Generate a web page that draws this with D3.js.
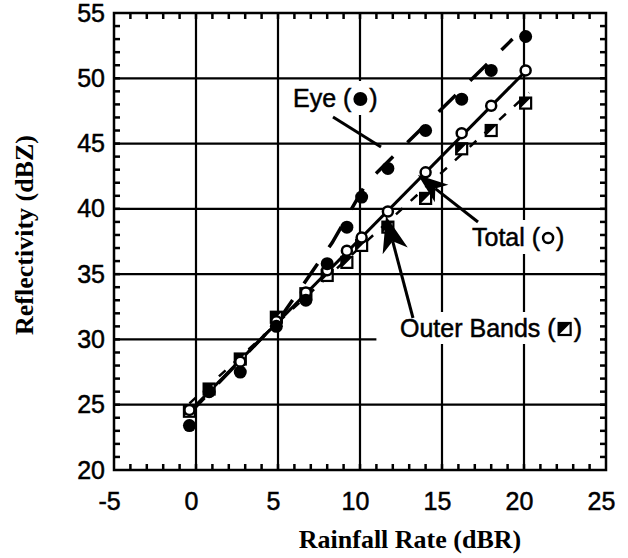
<!DOCTYPE html>
<html>
<head>
<meta charset="utf-8">
<script src="https://cdn.jsdelivr.net/npm/d3@7"></script>
<style>
  body { margin: 0; background: #fff; }
  svg { display: block; }
  .tick-label { font-family: "Liberation Sans", Arial, Helvetica, sans-serif; font-size: 25px; fill: #000; stroke: #000; stroke-width: 0.5; }
  .title { font-family: "Liberation Serif", "Times New Roman", serif; font-weight: bold; font-size: 26px; fill: #000; }
  .note { font-family: "Liberation Sans", Arial, Helvetica, sans-serif; font-size: 25px; fill: #000; stroke: #000; stroke-width: 0.5; }
</style>
</head>
<body>
<svg id="chart" width="628" height="558"></svg>
<script>
// axis ticks
var xTicks = [-5, 0, 5, 10, 15, 20, 25];
var yTicks = [20, 25, 30, 35, 40, 45, 50, 55];

// rainfall rate bins (dBR) and the mean reflectivity (dBZ) in each
var rainRate = [-0.4, 0.8, 2.7, 4.9, 6.7, 8.0, 9.2, 10.1, 11.7, 14.0, 16.2, 18.0, 20.1];
var eyeZ     = [23.4, 26.0, 27.5, 31.0, 33.0, 35.8, 38.6, 40.9, 43.1, 46.0, 48.4, 50.6, 53.2];
var totalZ   = [24.6, 26.0, 28.3, 31.4, 33.6, 35.3, 36.8, 37.8, 39.8, 42.8, 45.8, 47.9, 50.6];
var outerZ   = [24.5, 26.2, 28.5, 31.7, 33.5, 34.9, 35.9, 37.2, 38.6, 40.8, 44.6, 46.0, 48.1];

// fitted relations
var eyeFitR   = [-0.5, 5.0, 8.3, 10.4, 19.3];
var eyeFitZ   = [24.2, 31.4, 37.4, 42.0, 53.0];
var totalFitR = [-0.3, 20.3];
var totalFitZ = [24.6, 50.8];
var outerFitR = [-0.4, 20.3];
var outerFitZ = [25.1, 48.9];

var svg = d3.select("#chart");
var x = d3.scaleLinear().domain([-5, 25]).range([114, 606]);
var y = d3.scaleLinear().domain([20, 55]).range([470, 13]);

var gridLayer = svg.append("g");
var maskLayer = svg.append("g");
var dataLayer = svg.append("g");
var frameLayer = svg.append("g");
var noteLayer = svg.append("g");

// grid
gridLayer.selectAll(".vgrid").data([0, 5, 10, 15, 20]).enter().append("line")
  .attr("x1", function(d) { return x(d); }).attr("x2", function(d) { return x(d); })
  .attr("y1", y(55)).attr("y2", y(20))
  .attr("stroke", "#000").attr("stroke-width", 2.2);
gridLayer.selectAll(".hgrid").data([25, 30, 35, 40, 45, 50]).enter().append("line")
  .attr("y1", function(d) { return y(d); }).attr("y2", function(d) { return y(d); })
  .attr("x1", x(-5)).attr("x2", x(25))
  .attr("stroke", "#000").attr("stroke-width", 2.2);

// fit lines
function fitLine(rs, zs) {
  return d3.line().x(function(d) { return x(d); }).y(function(d, i) { return y(zs[i]); })(rs);
}
dataLayer.append("path").attr("d", fitLine(outerFitR, outerFitZ))
  .attr("fill", "none").attr("stroke", "#000").attr("stroke-width", 2.5).attr("stroke-dasharray", "9,11");
dataLayer.append("path").attr("d", fitLine(totalFitR, totalFitZ))
  .attr("fill", "none").attr("stroke", "#000").attr("stroke-width", 3);
dataLayer.append("path").attr("d", fitLine(eyeFitR, eyeFitZ))
  .attr("fill", "none").attr("stroke", "#000").attr("stroke-width", 3.5).attr("stroke-dasharray", "24,20");

// markers
function squareMark(g, s) {
  g.append("rect").attr("x", -s / 2).attr("y", -s / 2).attr("width", s).attr("height", s)
    .attr("fill", "#fff").attr("stroke", "#000").attr("stroke-width", 2.2);
  g.append("path").attr("d", "M" + (-s / 2) + "," + (-s / 2) + "L" + (s / 2) + "," + (-s / 2) + "L" + (-s / 2) + "," + (s / 2) + "Z")
    .attr("fill", "#000");
}
dataLayer.selectAll(".outer").data(rainRate).enter().append("g")
  .attr("class", "outer")
  .attr("transform", function(d, i) { return "translate(" + x(d) + "," + y(outerZ[i]) + ")"; })
  .each(function() { squareMark(d3.select(this), 11); });
dataLayer.selectAll(".total").data(rainRate).enter().append("circle")
  .attr("class", "total")
  .attr("cx", function(d) { return x(d); })
  .attr("cy", function(d, i) { return y(totalZ[i]); })
  .attr("r", 5).attr("fill", "#fff").attr("stroke", "#000").attr("stroke-width", 2.5);
dataLayer.selectAll(".eye").data(rainRate).enter().append("circle")
  .attr("class", "eye")
  .attr("cx", function(d) { return x(d); })
  .attr("cy", function(d, i) { return y(eyeZ[i]); })
  .attr("r", 6.5).attr("fill", "#000");

// frame and inward minor ticks
var minorX = d3.range(-4, 25, 1);
var minorY = d3.range(21, 55, 1);
var TICK = 6;
[y(20), y(55)].forEach(function(edge, k) {
  var dir = k == 0 ? -1 : 1;
  frameLayer.append("g").selectAll("line").data(minorX).enter().append("line")
    .attr("x1", function(d) { return x(d); }).attr("x2", function(d) { return x(d); })
    .attr("y1", edge).attr("y2", edge + dir * TICK)
    .attr("stroke", "#000").attr("stroke-width", 2.5);
});
[x(-5), x(25)].forEach(function(edge, k) {
  var dir = k == 0 ? 1 : -1;
  frameLayer.append("g").selectAll("line").data(minorY).enter().append("line")
    .attr("y1", function(d) { return y(d); }).attr("y2", function(d) { return y(d); })
    .attr("x1", edge).attr("x2", edge + dir * TICK)
    .attr("stroke", "#000").attr("stroke-width", 2.5);
});
frameLayer.append("rect")
  .attr("x", x(-5)).attr("y", y(55)).attr("width", x(25) - x(-5)).attr("height", y(20) - y(55))
  .attr("fill", "none").attr("stroke", "#000").attr("stroke-width", 2.5);

// tick labels
var fmt = function(d) { return String(d); };
var xAxis = frameLayer.append("g").attr("transform", "translate(0," + y(20) + ")")
  .call(d3.axisBottom(x).tickValues(xTicks).tickSize(0).tickPadding(22).tickFormat(fmt));
xAxis.select(".domain").remove();
xAxis.selectAll("text").attr("class", "tick-label").attr("dx", -5);
xAxis.attr("font-size", null).attr("font-family", null);

var yAxis = frameLayer.append("g").attr("transform", "translate(" + x(-5) + ",0)")
  .call(d3.axisLeft(y).tickValues(yTicks).tickSize(0).tickPadding(9).tickFormat(fmt));
yAxis.select(".domain").remove();
yAxis.selectAll("text").attr("class", "tick-label");
yAxis.attr("font-size", null).attr("font-family", null);

// axis titles
svg.append("text").attr("class", "title").attr("x", 410).attr("y", 548)
  .attr("text-anchor", "middle").text("Rainfall Rate (dBR)");
svg.append("text").attr("class", "title")
  .attr("transform", "translate(33,235) rotate(-90)")
  .attr("text-anchor", "middle").text("Reflectivity (dBZ)");

// annotations
function dart(tip, from, len, half, notch) {
  var dx = from[0] - tip[0], dy = from[1] - tip[1];
  var n = Math.sqrt(dx * dx + dy * dy);
  var ux = dx / n, uy = dy / n, px = -uy, py = ux;
  var bx = tip[0] + ux * len, by = tip[1] + uy * len;
  return [[tip[0], tip[1]], [bx + px * half, by + py * half],
          [tip[0] + ux * (len - notch), tip[1] + uy * (len - notch)],
          [bx - px * half, by - py * half]];
}

function label(txt, lx, ly, markFn, markW) {
  var g = noteLayer.append("g");
  var t1 = g.append("text").attr("class", "note").attr("x", lx).attr("y", ly).text(txt + " (");
  var w = t1.node().getComputedTextLength();
  var m = g.append("g").attr("transform", "translate(" + (lx + w + markW / 2 + 1) + "," + (ly - 8) + ")");
  markFn(m);
  g.append("text").attr("class", "note").attr("x", lx + w + markW + 2).attr("y", ly).text(")");
  return g;
}

// leaders
noteLayer.append("line").attr("x1", 333).attr("y1", 117).attr("x2", 381).attr("y2", 147)
  .attr("stroke", "#000").attr("stroke-width", 3);

var tTip = [418, 175], tFrom = [478, 222];
var tHead = dart(tTip, tFrom, 30, 11, 8);
noteLayer.append("line").attr("x1", tFrom[0]).attr("y1", tFrom[1]).attr("x2", tHead[2][0]).attr("y2", tHead[2][1])
  .attr("stroke", "#000").attr("stroke-width", 3);
noteLayer.append("polygon").attr("points", tHead.join(" ")).attr("fill", "#000");

var oTip = [386, 216], oFrom = [413, 318];
var oHead = dart(oTip, oFrom, 36, 13, 10);
noteLayer.append("line").attr("x1", oFrom[0]).attr("y1", oFrom[1]).attr("x2", oHead[2][0]).attr("y2", oHead[2][1])
  .attr("stroke", "#000").attr("stroke-width", 3);
noteLayer.append("polygon").attr("points", oHead.join(" ")).attr("fill", "#000");

var eyeLab = label("Eye", 293, 107, function(m) { m.append("circle").attr("r", 7).attr("fill", "#000"); }, 16);
var totLab = label("Total", 472, 246, function(m) {
  m.append("circle").attr("r", 5).attr("fill", "#fff").attr("stroke", "#000").attr("stroke-width", 2.5);
}, 14);
var outLab = label("Outer Bands", 400, 337, function(m) { squareMark(m, 12); }, 16);

// white boxes behind the labels break the grid
[eyeLab, totLab].forEach(function(g) {
  var b = g.node().getBBox();
  maskLayer.append("rect").attr("x", b.x - 3).attr("y", b.y - 3).attr("width", b.width + 6).attr("height", b.height + 6)
    .attr("fill", "#fff");
});
var ob = outLab.node().getBBox();
maskLayer.append("rect").attr("x", x(11)).attr("y", ob.y - 2)
  .attr("width", x(25) - x(11) - 2).attr("height", Math.max(ob.height + 4, y(30) - ob.y + 6))
  .attr("fill", "#fff");
</script>
</body>
</html>
